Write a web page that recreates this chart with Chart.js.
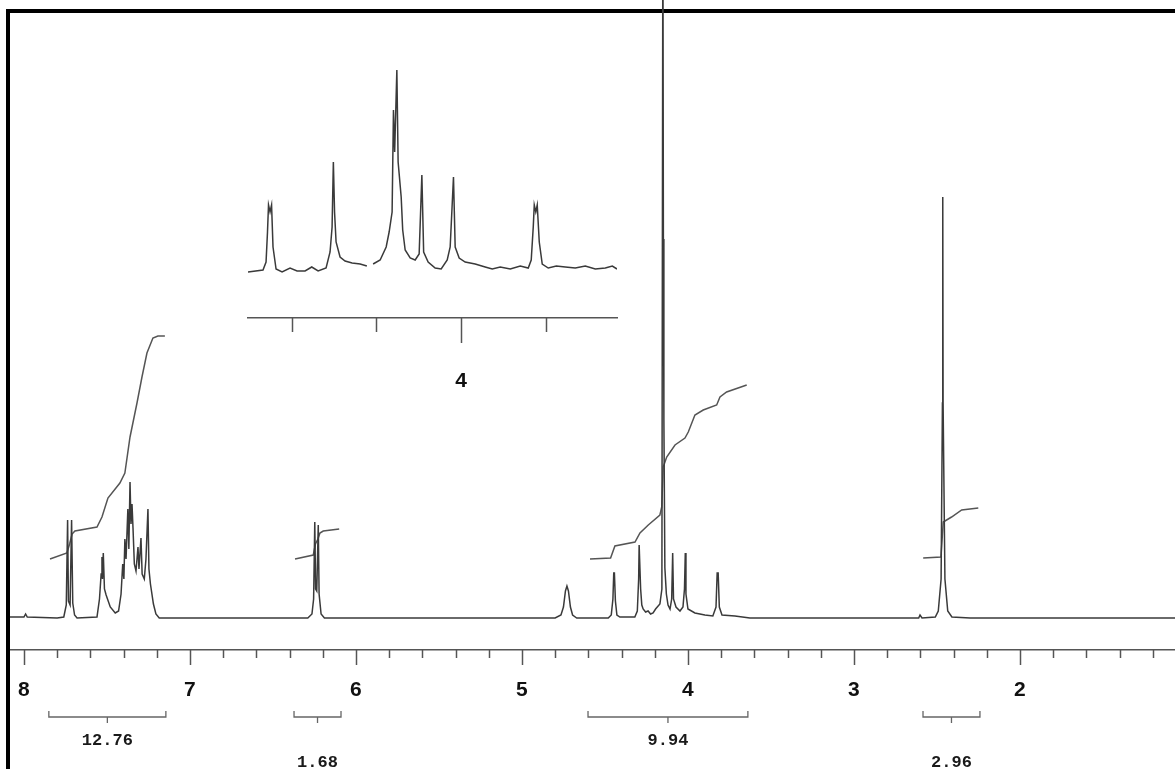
<!DOCTYPE html>
<html><head><meta charset="utf-8">
<script src="https://cdn.jsdelivr.net/npm/chart.js@4.4.1/dist/chart.umd.min.js"></script>
<style>
html,body{margin:0;padding:0;background:#fff;}
#wrap{position:relative;width:1175px;height:769px;overflow:hidden;background:#fff;}
#main{position:absolute;left:0;top:0;width:1175px;height:769px;}
#inset{position:absolute;left:240px;top:60px;width:385px;height:340px;}
</style></head><body>
<div id="wrap"><canvas id="main" width="1175" height="769"></canvas><canvas id="inset" width="385" height="340"></canvas></div>
<script>
// ---- main spectrum: [ppm, intensity] ----
const mainSpectrum = [
[8.09,2],[8.00,2],[7.99,5],[7.98,2],[7.80,1],[7.76,2],[7.745,14],[7.737,99],[7.732,18],[7.722,14],[7.713,99],[7.706,16],[7.695,4],[7.68,1],
[7.56,2],[7.545,20],[7.535,45],[7.530,62],[7.527,40],[7.522,66],[7.515,30],[7.505,24],[7.48,12],[7.45,6],[7.43,8],
[7.415,25],[7.405,55],[7.398,40],[7.392,80],[7.385,60],[7.374,110],[7.368,70],[7.361,137],[7.355,95],[7.349,115],[7.343,91],[7.335,55],[7.325,48],[7.313,72],[7.307,50],[7.295,81],[7.288,45],[7.275,40],[7.265,60],[7.253,110],[7.247,50],[7.238,35],[7.22,15],[7.205,5],[7.185,1],
[6.60,1],[6.29,1],[6.265,5],[6.255,20],[6.248,97],[6.243,30],[6.236,28],[6.227,94],[6.222,25],[6.21,5],[6.19,1],
[5.2,1],[4.80,1],[4.765,4],[4.750,12],[4.738,28],[4.729,33],[4.72,28],[4.708,12],[4.695,4],[4.67,1],
[4.48,1],[4.462,4],[4.452,20],[4.447,46],[4.443,46],[4.437,18],[4.428,4],[4.41,2],
[4.32,2],[4.305,8],[4.297,40],[4.294,74],[4.290,74],[4.285,30],[4.278,14],[4.27,10],[4.255,7],[4.24,8],[4.225,5],[4.21,6],[4.195,10],
[4.169,15],[4.157,30],[4.151,720],[4.148,380],[4.145,200],[4.139,51],[4.13,25],[4.12,14],[4.108,10],[4.098,20],[4.092,66],[4.087,20],[4.072,12],[4.048,8],[4.03,12],[4.021,30],[4.016,66],[4.012,25],[4.0,10],[3.958,6],[3.898,4],[3.85,3],[3.831,12],[3.824,46],[3.818,46],[3.811,12],[3.795,4],[3.717,3],[3.627,1],
[2.70,1],[2.61,1],[2.602,4],[2.59,1],[2.51,2],[2.492,8],[2.475,40],[2.467,216],[2.465,422],[2.463,216],[2.452,40],[2.435,8],[2.41,2],[2.30,1],[1.066,1]
];
// ---- integral traces: [ppm, height] ----
const integralAromatic = [[7.843,60],[7.741,66],[7.725,75],[7.71,85],[7.693,88],[7.56,92],[7.53,102],[7.494,121],[7.422,136],[7.392,146],[7.361,182],[7.319,216],[7.289,242],[7.259,266],[7.223,281],[7.193,283],[7.151,283]];
const integralVinyl = [[6.367,60],[6.257,64],[6.244,75],[6.229,80],[6.217,86],[6.197,88],[6.101,90]];
const integralAliphatic = [[4.590,60],[4.466,61],[4.440,73],[4.319,77],[4.289,86],[4.239,94],[4.169,104],[4.158,112],[4.149,152],[4.128,162],[4.078,174],[4.018,181],[3.998,187],[3.958,204],[3.908,209],[3.827,214],[3.807,222],[3.767,227],[3.646,234]];
const integralMethyl = [[2.583,61],[2.476,62],[2.462,97],[2.412,102],[2.351,109],[2.251,111]];
// ---- integration brackets ----
const integralRanges = [[7.85,7.145],[6.373,6.09],[4.602,3.639],[2.584,2.241]];
const integralValues = ['12.76','1.68','9.94','2.96'];
// ---- axis ticks ----
const xTicks = [8,7.8,7.6,7.4,7.2,7,6.8,6.6,6.4,6.2,6,5.8,5.6,5.4,5.2,5,4.8,4.6,4.4,4.2,4,3.8,3.6,3.4,3.2,3,2.8,2.6,2.4,2.2,2,1.8,1.6,1.4,1.2];
// ---- inset spectrum (expanded region) ----
const insetSpectrum = [
[4.2515,0],[4.2338,2],[4.2302,10],[4.2285,40],[4.2273,67],[4.2255,60],[4.2237,67],[4.222,25],[4.2184,3],[4.2113,0],[4.2019,4],[4.1936,1],[4.1842,1],[4.1763,5],[4.1688,1],
[4.1594,4],[4.1547,20],[4.1523,45],[4.1508,110],[4.1494,60],[4.1476,30],[4.1429,15],[4.137,11],[4.1287,9],[4.1192,8],[4.1113,6],[4.107,null],
[4.1039,8],[4.0956,12],[4.0885,25],[4.085,40],[4.0815,60],[4.0799,162],[4.0785,120],[4.0759,202],[4.0744,110],[4.0708,75],[4.069,42],[4.0661,22],[4.0602,14],[4.0543,12],
[4.0496,18],[4.0464,97],[4.0443,20],[4.039,10],[4.0307,4],[4.0236,3],[4.0165,12],[4.013,25],[4.0091,95],[4.0071,25],[4.0024,14],[3.9953,10],[3.9835,8],[3.9717,5],[3.9634,3],[3.954,5],[3.9421,3],[3.9303,6],[3.9209,4],
[3.9174,12],[3.915,45],[3.9138,67],[3.912,60],[3.9103,67],[3.9079,30],[3.9044,8],[3.8973,4],[3.8878,6],[3.8772,5],[3.8654,4],[3.8536,6],[3.8418,3],[3.83,4],[3.8217,6],[3.8162,3]
];
const insetTicks = [4.2,4.1,4,3.9];

const toXY = arr => arr.map(p => ({x:p[0], y:p[1]}));
const lineDs = (arr, color, width) => ({data: toXY(arr), borderColor: color, borderWidth: width, pointRadius: 0, tension: 0, fill: false, spanGaps: false});
const tickFont = {family:'Liberation Sans', weight:'bold', size:21};
const noPad = s => { s.paddingLeft = 0; s.paddingRight = 0; s.paddingTop = 0; s.paddingBottom = 0; };

const mainDecor = {
  id: 'mainDecor',
  beforeDatasetsDraw(chart) {
    const ctx = chart.ctx;
    ctx.save();
    ctx.fillStyle = '#000';
    ctx.fillRect(6, 9, 4, chart.height - 9);
    ctx.fillRect(6, 9, chart.width - 6, 4);
    ctx.restore();
  },
  afterDraw(chart) {
    const ctx = chart.ctx, xs = chart.scales.x, yb = chart.chartArea.bottom;
    ctx.save();
    ctx.strokeStyle = '#555'; ctx.lineWidth = 1.5;
    xTicks.forEach(v => {
      const px = Math.round(xs.getPixelForValue(v)) + 0.5;
      const len = Number.isInteger(v) ? 15 : 8;
      ctx.beginPath(); ctx.moveTo(px, yb); ctx.lineTo(px, yb + len); ctx.stroke();
    });
    ctx.strokeStyle = '#666'; ctx.lineWidth = 1.3;
    ctx.fillStyle = '#1a1a1a';
    ctx.font = 'bold 17px "Liberation Mono"';
    ctx.textAlign = 'center'; ctx.textBaseline = 'middle';
    const by = yb + 67;
    integralRanges.forEach((r, i) => {
      const x1 = xs.getPixelForValue(r[0]), x2 = xs.getPixelForValue(r[1]);
      const xc = (x1 + x2) / 2;
      ctx.beginPath();
      ctx.moveTo(x1, by - 6); ctx.lineTo(x1, by); ctx.lineTo(x2, by); ctx.lineTo(x2, by - 6);
      ctx.moveTo(xc, by); ctx.lineTo(xc, by + 6);
      ctx.stroke();
      ctx.fillText(integralValues[i], xc, yb + (i % 2 === 0 ? 91 : 113));
    });
    ctx.restore();
  }
};

new Chart(document.getElementById('main'), {
  type: 'line',
  data: {datasets: [
    lineDs(mainSpectrum, '#3a3a3a', 1.5),
    lineDs(integralAromatic, '#555', 1.5),
    lineDs(integralVinyl, '#555', 1.5),
    lineDs(integralAliphatic, '#555', 1.5),
    lineDs(integralMethyl, '#555', 1.5)
  ]},
  options: {
    responsive: false, animation: false,
    layout: {padding: {left: 10, right: 0, top: 0, bottom: 0}},
    plugins: {legend: {display: false}, tooltip: {enabled: false}},
    scales: {
      x: {
        type: 'linear', reverse: true, min: 1.066, max: 8.084,
        afterBuildTicks: s => { s.ticks = xTicks.map(v => ({value: v})); },
        afterFit: s => { s.height = 119; noPad(s); },
        grid: {display: false},
        border: {display: true, color: '#555', width: 1.5},
        ticks: {autoSkip: false, maxRotation: 0, padding: 20, color: '#111', font: tickFont,
          callback: v => Number.isInteger(v) ? String(v) : ''}
      },
      y: {display: false, min: -31, max: 619}
    }
  },
  plugins: [mainDecor]
});

const insetDecor = {
  id: 'insetDecor',
  afterDraw(chart) {
    const ctx = chart.ctx, xs = chart.scales.x, yb = chart.chartArea.bottom;
    ctx.save();
    ctx.strokeStyle = '#555'; ctx.lineWidth = 1.5;
    insetTicks.forEach(v => {
      const px = Math.round(xs.getPixelForValue(v)) + 0.5;
      const len = v === 4 ? 25 : 14;
      ctx.beginPath(); ctx.moveTo(px, yb); ctx.lineTo(px, yb + len); ctx.stroke();
    });
    ctx.restore();
  }
};

new Chart(document.getElementById('inset'), {
  type: 'line',
  data: {datasets: [lineDs(insetSpectrum, '#3a3a3a', 1.5)]},
  options: {
    responsive: false, animation: false,
    layout: {padding: {left: 8, right: 8, top: 0, bottom: 0}},
    plugins: {legend: {display: false}, tooltip: {enabled: false}},
    scales: {
      x: {
        type: 'linear', reverse: true, min: 3.8162, max: 4.2515,
        afterBuildTicks: s => { s.ticks = insetTicks.map(v => ({value: v})); },
        afterFit: s => { s.height = 82; noPad(s); },
        grid: {display: false},
        border: {display: true, color: '#555', width: 1.5},
        ticks: {autoSkip: false, maxRotation: 0, padding: 43, color: '#111', font: tickFont,
          callback: v => v === 4 ? '4' : ''}
      },
      y: {display: false, min: -46, max: 212}
    }
  },
  plugins: [insetDecor]
});
</script>
</body></html>
